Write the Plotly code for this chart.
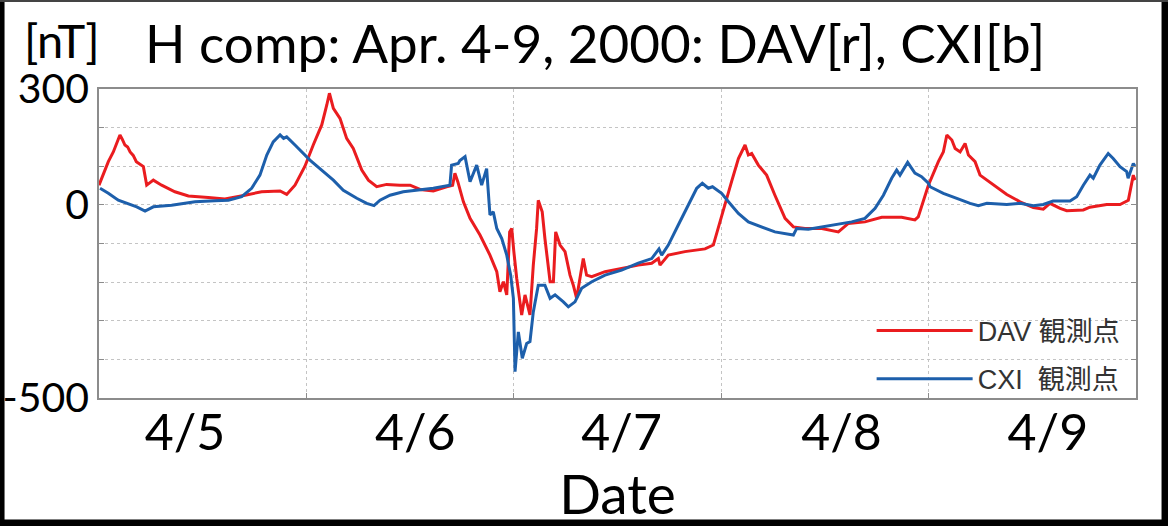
import pandas as pd
import plotly.graph_objects as go

# ---- data (days since 2000-04-05 00:00, H component in nT) ----
dav_day = [0.0, 0.045, 0.069, 0.101, 0.112, 0.125, 0.138, 0.15, 0.165, 0.18, 0.214, 0.23, 0.262, 0.302,
           0.366, 0.431, 0.527, 0.607, 0.704, 0.784, 0.873, 0.905, 0.945, 0.993, 1.033, 1.074, 1.098,
           1.111, 1.13, 1.162, 1.194, 1.226, 1.267, 1.299, 1.339, 1.387, 1.451, 1.5, 1.548, 1.612,
           1.676, 1.705, 1.716, 1.73, 1.757, 1.789, 1.837, 1.885, 1.918, 1.933, 1.95, 1.966, 1.98,
           1.99, 2.0, 2.014, 2.038, 2.054, 2.078, 2.094, 2.11, 2.118, 2.137, 2.15, 2.175, 2.191,
           2.202, 2.223, 2.247, 2.271, 2.287, 2.303, 2.319, 2.335, 2.351, 2.376, 2.44, 2.52, 2.6,
           2.665, 2.697, 2.705, 2.745, 2.825, 2.922, 2.962, 2.986, 3.018, 3.05, 3.083, 3.107, 3.115,
           3.131, 3.147, 3.179, 3.219, 3.259, 3.308, 3.348, 3.404, 3.485, 3.565, 3.613, 3.693, 3.774,
           3.87, 3.934, 3.95, 3.999, 4.047, 4.071, 4.088, 4.112, 4.128, 4.152, 4.176, 4.192, 4.224,
           4.248, 4.312, 4.377, 4.441, 4.505, 4.553, 4.585, 4.634, 4.666, 4.746, 4.778, 4.859, 4.923,
           4.963, 4.987, 4.995]
dav_nt = [51, 112, 137, 181, 170, 155, 150, 137, 128, 112, 99, 51, 64, 51,
          34, 23, 19, 15, 25, 34, 36, 27, 51, 100, 155, 207, 258,
          289, 250, 224, 172, 146, 90, 64, 47, 53, 51, 51, 40, 36,
          47, 51, 82, 60, 8, -35, -78, -130, -173, -225, -199, -233, -70,
          -61, -120, -190, -285, -233, -285, -156, -61, 12, -18, -87, -199, -199,
          -70, -104, -121, -182, -208, -242, -190, -139, -182, -186, -173, -164, -156,
          -151, -139, -156, -130, -121, -114, -104, -61, 0, 60, 120, 146, 155,
          129, 133, 103, 77, 25, -35, -57, -61, -61, -70, -48, -44, -32,
          -32, -39, -31, 51, 112, 137, 181, 168, 146, 137, 159, 129, 112,
          77, 51, 27, 8, -7, -11, 4, -9, -15, -13, -6, 1, 1,
          12, 77, 64]

cxi_day = [0.005, 0.045, 0.093, 0.133, 0.182, 0.222, 0.262, 0.35, 0.463, 0.559, 0.624, 0.688, 0.736,
           0.776, 0.809, 0.84, 0.873, 0.89, 0.905, 0.945, 0.993, 1.017, 1.082, 1.13, 1.178, 1.243,
           1.291, 1.326, 1.355, 1.403, 1.467, 1.548, 1.612, 1.692, 1.7, 1.732, 1.74, 1.765, 1.789,
           1.821, 1.845, 1.869, 1.885, 1.901, 1.918, 1.942, 1.966, 1.985, 1.998, 2.006, 2.022, 2.041,
           2.062, 2.078, 2.094, 2.118, 2.15, 2.175, 2.199, 2.239, 2.263, 2.295, 2.327, 2.376, 2.44,
           2.52, 2.6, 2.665, 2.7, 2.713, 2.745, 2.793, 2.841, 2.882, 2.909, 2.938, 2.958, 3.002,
           3.035, 3.083, 3.131, 3.195, 3.259, 3.348, 3.364, 3.42, 3.485, 3.565, 3.629, 3.693, 3.742,
           3.782, 3.822, 3.846, 3.862, 3.899, 3.934, 3.966, 3.999, 4.007, 4.071, 4.136, 4.2, 4.24,
           4.281, 4.377, 4.441, 4.505, 4.553, 4.6, 4.682, 4.714, 4.746, 4.778, 4.794, 4.826, 4.866,
           4.89, 4.923, 4.955, 4.962, 4.987, 4.995]
cxi_nt = [43, 30, 12, 4, -5, -16, -5, -1, 8, 11, 12, 21, 43,
          77, 129, 163, 181, 172, 176, 155, 129, 116, 86, 64, 38, 17,
          4, -2, 12, 25, 34, 38, 43, 51, 103, 107, 115, 125, 60,
          103, 51, 94, -26, -18, -61, -87, -130, -182, -242, -432, -329, -397,
          -359, -354, -277, -208, -208, -242, -233, -251, -264, -251, -216, -199, -182,
          -169, -151, -139, -114, -130, -104, -52, -1, 43, 56, 43, 47, 30,
          8, -22, -44, -57, -70, -78, -61, -63, -57, -51, -44, -35, -9,
          25, 69, 90, 77, 110, 82, 73, 56, 47, 30, 17, 4, -2,
          4, 1, 4, -2, 1, 10, 10, 21, 51, 77, 69, 103, 133,
          120, 99, 86, 69, 107, 100]

day_labels = ["4/5", "4/6", "4/7", "4/8", "4/9"]
y_ticks = [-500, -400, -300, -200, -100, 0, 100, 200, 300]
y_ticktext = ["-500", "", "", "", "", "0", "", "", "300"]

# layout: where the day labels sit (fraction of day from the start of the axis)
label_offsets = [0.415, 1.525, 2.52, 3.58, 4.575]

start = pd.Timestamp("2000-04-05")
dav_t = start + pd.to_timedelta(dav_day, unit="D")
cxi_t = start + pd.to_timedelta(cxi_day, unit="D")
label_pos = [start + pd.Timedelta(days=o) for o in label_offsets]
day_edge = [start + pd.Timedelta(days=i) for i in range(1, len(day_labels))]

RED = "#ea1c1f"
BLUE = "#1d5fab"
GRID = "#c4c4c4"
AX = "#8c8c8c"

fig = go.Figure()
fig.add_trace(go.Scatter(x=dav_t, y=dav_nt, mode="lines", name="DAV 観測点",
                         line=dict(color=RED, width=3), legendgroup="a"))
fig.add_trace(go.Scatter(x=cxi_t, y=cxi_nt, mode="lines", name="CXI  観測点",
                         line=dict(color=BLUE, width=3), legendgroup="b"))

fig.update_layout(
    width=1168, height=526,
    margin=dict(l=99, r=32, t=89, b=128, autoexpand=False),
    paper_bgcolor="white", plot_bgcolor="white",
    font=dict(family="Lato", color="black"),
    showlegend=True,
    legend=dict(x=0.99, y=-0.018, xanchor="right", yanchor="bottom",
                bgcolor="rgba(0,0,0,0)", itemwidth=96, tracegroupgap=10,
                font=dict(family="Liberation Sans, Noto Sans CJK JP", size=27, color="#333333")),
    xaxis=dict(
        type="date", range=[start, start + pd.Timedelta(days=5)], automargin=False,
        tickmode="array", tickvals=label_pos, ticktext=day_labels, ticks="",
        showgrid=False, zeroline=False,
        tickfont=dict(family="Lato", size=50, color="black"),
        ticklabelstandoff=-10,
        showline=True, mirror=True, linecolor=AX, linewidth=1.5,
        minor=dict(tickmode="array", tickvals=day_edge, ticks="inside", ticklen=5,
                   tickcolor=AX, showgrid=True, gridcolor=GRID, griddash="dot", gridwidth=1),
        title=dict(text="Date", font=dict(family="Lato", size=55, color="black"), standoff=10),
    ),
    yaxis=dict(
        range=[-500, 300], tickmode="array", tickvals=y_ticks, ticktext=y_ticktext,
        automargin=False,
        ticks="inside", ticklen=5, tickcolor=AX,
        showgrid=True, gridcolor=GRID, griddash="dot", gridwidth=1, zeroline=False,
        showline=True, mirror="ticks", linecolor=AX, linewidth=1.5,
        tickfont=dict(family="Lato", size=41, color="black"),
        ticklabelstandoff=0,
    ),
)

# title texts
fig.add_annotation(text="[nT]", xref="paper", yref="paper", x=-0.0743, y=1.158,
                   xanchor="left", yanchor="middle", showarrow=False,
                   font=dict(family="Lato", size=47, color="black"))
fig.add_annotation(text="H comp: Apr. 4-9, 2000: DAV[r], CXI[b]", xref="paper", yref="paper",
                   x=0.0424, y=1.15, xanchor="left", yanchor="middle", showarrow=False,
                   font=dict(family="Lato", size=53, color="black"))

# outer frame
for x0, y0, x1, y1, w, c in [(-0.0935, -0.42, -0.0935, 1.29, 5, "black"),
                             (1.028, -0.42, 1.028, 1.29, 7, "black"),
                             (-0.1, -0.4045, 1.04, -0.4045, 7, "black"),
                             (-0.1, 1.2848, 1.04, 1.2848, 2, "#444444")]:
    fig.add_shape(type="line", xref="paper", yref="paper", x0=x0, y0=y0, x1=x1, y1=y1,
                  line=dict(color=c, width=w))

fig.write_html("out.html")
